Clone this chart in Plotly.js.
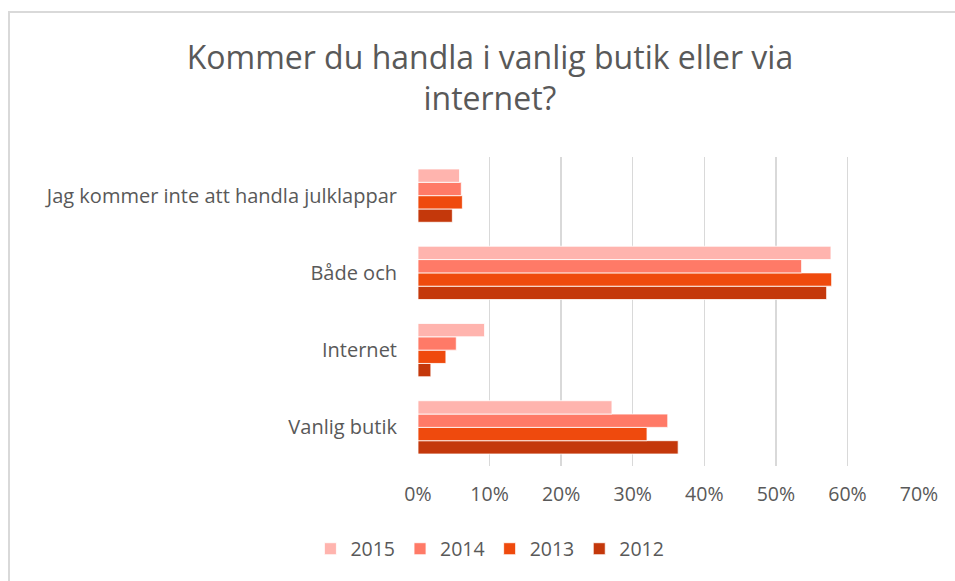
<!DOCTYPE html>
<html>
<head>
<meta charset="utf-8">
<script src="https://cdn.plot.ly/plotly-3.0.1.min.js"></script>
<style>
  html, body { margin: 0; padding: 0; background: #fff; }
  #wrap { position: relative; width: 955px; height: 581px; overflow: hidden; }
  #chart { position: absolute; left: 0; top: 0; width: 955px; height: 581px; }
  #frame { position: absolute; left: 8px; top: 11px; width: 1000px; height: 700px;
           border-left: 2px solid #d9d9d9; border-top: 2px solid #d9d9d9; pointer-events: none; }
</style>
</head>
<body>
<div id="wrap">
  <div id="chart"></div>
  <div id="frame"></div>
</div>
<script>
const categories = ["Vanlig butik", "Internet", "Både och", "Jag kommer inte att handla julklappar"];
const years = ["2012", "2013", "2014", "2015"];
const values2012 = [0.3635, 0.018, 0.571, 0.048];
const values2013 = [0.320, 0.039, 0.578, 0.062];
const values2014 = [0.349, 0.0535, 0.536, 0.0605];
const values2015 = [0.271, 0.093, 0.577, 0.058];
const colors = ["#c4380b", "#ef4a0d", "#ff7a67", "#ffb4ae"];
const xTicks = [0, 0.1, 0.2, 0.3, 0.4, 0.5, 0.6, 0.7];
const xTickLabels = ["0%", "10%", "20%", "30%", "40%", "50%", "60%", "70%"];

const series = [values2012, values2013, values2014, values2015];
const traces = years.map((yr, i) => ({
  type: "bar",
  orientation: "h",
  name: yr,
  y: categories,
  x: series[i],
  marker: { color: colors[i], line: { color: "#ffffff", width: 0.8 } },
  hoverinfo: "skip"
}));

const font = "'Open Sans', sans-serif";
const layout = {
  width: 955, height: 581,
  margin: { l: 418, r: 36, t: 157, b: 115 },
  paper_bgcolor: "#ffffff", plot_bgcolor: "#ffffff",
  font: { family: font, color: "#595959", size: 19 },
  title: {
    text: "Kommer du handla i vanlig butik eller via<br>internet?",
    font: { family: font, size: 32, color: "#595959" },
    xref: "container", x: 0.513, xanchor: "center",
    yref: "container", y: 0.882, yanchor: "top"
  },
  barmode: "group",
  bargap: 0.31,
  bargroupgap: 0,
  xaxis: {
    range: [0, 0.7],
    tickvals: xTicks, ticktext: xTickLabels,
    showgrid: true, gridcolor: "#d9d9d9", gridwidth: 1.5,
    zeroline: false, showline: false, ticks: "",
    ticklabelstandoff: 14,
    tickfont: { family: font, size: 19.5, color: "#595959" },
    fixedrange: true
  },
  yaxis: {
    type: "category",
    categoryorder: "array", categoryarray: categories,
    showgrid: false, zeroline: false, showline: false, ticks: "",
    ticklabelstandoff: 20,
    tickfont: { family: font, size: 20, color: "#595959" },
    fixedrange: true
  },
  legend: {
    orientation: "h",
    traceorder: "reversed",
    xref: "container", x: 0.513, xanchor: "center",
    yref: "container", y: 0.055, yanchor: "middle",
    font: { family: font, size: 19.5, color: "#595959" },
    itemwidth: 30
  },
  showlegend: true
};

Plotly.newPlot("chart", traces, layout, { displayModeBar: false, staticPlot: true });
</script>
</body>
</html>
